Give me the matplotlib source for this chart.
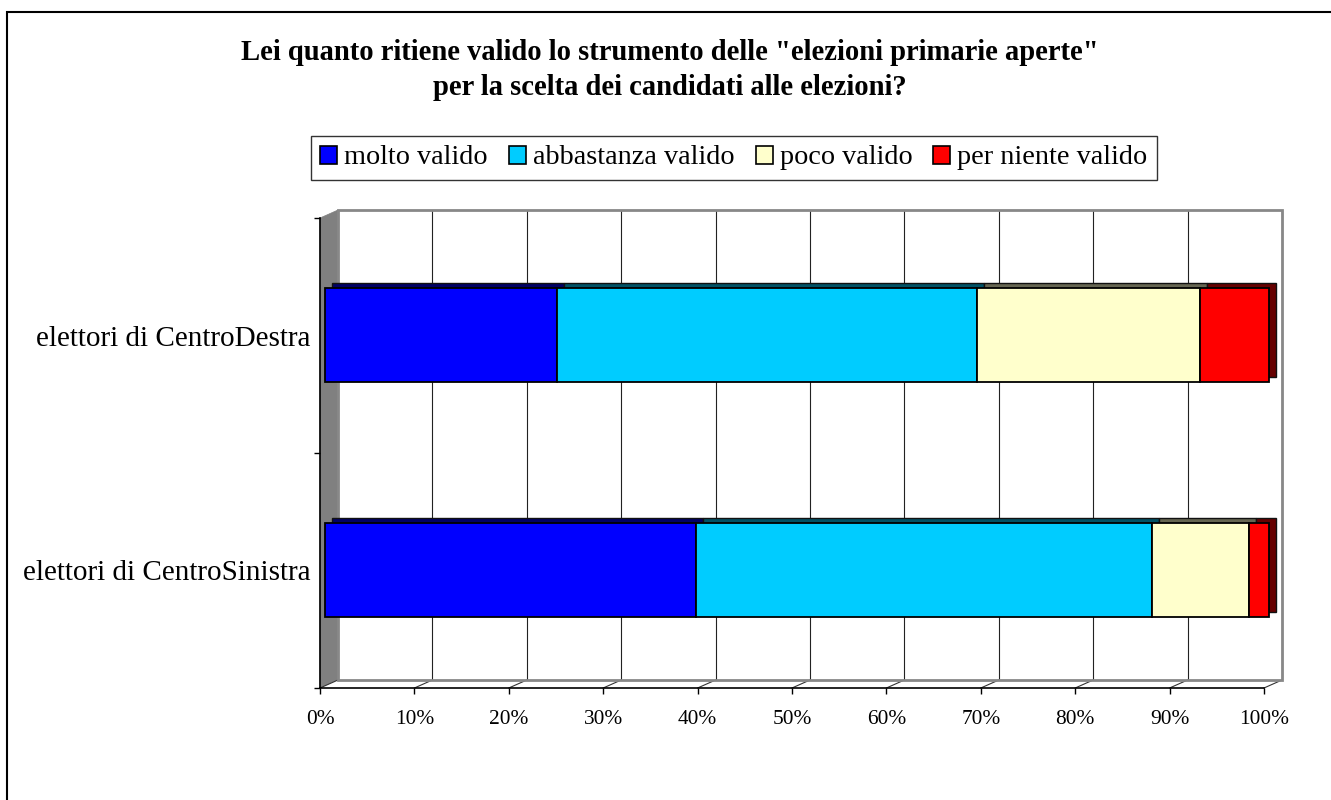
import numpy as np
import matplotlib
matplotlib.use("Agg")
import matplotlib.pyplot as plt
from matplotlib.patches import Patch, Rectangle, Polygon
from matplotlib.transforms import offset_copy
from matplotlib.colors import to_rgb

plt.rcParams['font.family'] = ['Liberation Serif', 'DejaVu Serif']

# data (percent of answers)
groups = ["elettori di CentroSinistra", "elettori di CentroDestra"]
answers = ["molto valido", "abbastanza valido", "poco valido", "per niente valido"]
molto = [39.3, 24.6]
abbastanza = [48.3, 44.5]
poco = [10.3, 23.6]
per_niente = [2.1, 7.3]
colors = ["#0000FF", "#00CCFF", "#FFFFCC", "#FF0000"]
title = 'Lei quanto ritiene valido lo strumento delle "elezioni primarie aperte"\nper la scelta dei candidati alle elezioni?'

W, H = 1331, 800
fig = plt.figure(figsize=(W / 100, H / 100), dpi=100)

# front plane of the fake 3d box, in pixels
left, right, bottom, top = 320, 1264, 688, 218
ax = fig.add_axes([left / W, 1 - bottom / H, (right - left) / W, (bottom - top) / H])
ax.set_xlim(0, 100)
ax.set_ylim(-0.5, 1.5)
ax.patch.set_alpha(0)

# depth of the back wall (pixels) -> data units
DX, DY = 18, 8
ddx = DX * 100 / (right - left)
ddy = DY * 2 / (bottom - top)

ticks = np.arange(0, 101, 10)

# side wall and floor
ax.add_patch(Polygon([(0, -0.5), (0, 1.5), (ddx, 1.5 + ddy), (ddx, -0.5 + ddy)],
                     closed=True, facecolor="#808080", edgecolor="#808080", lw=0.5, clip_on=False, zorder=1))
ax.add_patch(Polygon([(0, -0.5), (100, -0.5), (100 + ddx, -0.5 + ddy), (ddx, -0.5 + ddy)],
                     closed=True, facecolor="white", edgecolor="none", clip_on=False, zorder=1))
for t in ticks:
    ax.plot([t, t + ddx], [-0.5, -0.5 + ddy], color="#333333", lw=0.8, clip_on=False, zorder=1)

# back wall with gridlines
back = offset_copy(ax.transData, fig=fig, x=DX, y=DY, units="dots")
ax.vlines(ticks[1:], -0.5, 1.5, colors="#222222", lw=0.8, transform=back, clip_on=False, zorder=1)
ax.add_patch(Rectangle((0, -0.5), 100, 2, facecolor="none", edgecolor="#888888", lw=2,
                       transform=back, clip_on=False, zorder=2))

# stacked bars: a darker copy behind gives the top and side faces
series = [molto, abbastanza, poco, per_niente]
ypos = np.arange(len(groups))
front = offset_copy(ax.transData, fig=fig, x=5, y=1, units="dots")
shadow = offset_copy(ax.transData, fig=fig, x=12, y=6, units="dots")
lefts = np.zeros(len(groups))
for vals, c in zip(series, colors):
    dark = tuple(v * 0.4 for v in to_rgb(c))
    ax.barh(ypos, vals, left=lefts, height=0.4, color=dark, edgecolor="#111111", lw=1,
            transform=shadow, clip_on=False, zorder=3)
    lefts = lefts + np.array(vals)
lefts = np.zeros(len(groups))
for vals, c in zip(series, colors):
    ax.barh(ypos, vals, left=lefts, height=0.4, color=c, edgecolor="black", lw=1.3,
            transform=front, clip_on=False, zorder=4)
    lefts = lefts + np.array(vals)

# axes
for s in ["top", "right"]:
    ax.spines[s].set_visible(False)
ax.spines["left"].set_linewidth(1.2)
ax.spines["bottom"].set_linewidth(1.2)
ax.spines["left"].set_zorder(5)
ax.spines["bottom"].set_zorder(5)
ax.set_xticks(ticks, [f"{t}%" for t in ticks])
ax.set_yticks([-0.5, 0.5, 1.5], ["", "", ""])
ax.set_yticks(ypos, groups, minor=True)
ax.tick_params(axis="x", length=4, width=1, direction="out", labelsize=15.4, pad=12)
ax.tick_params(axis="y", which="major", length=4, width=1, direction="out")
ax.tick_params(axis="y", which="minor", length=0, labelsize=21, pad=7)

fig.text(670 / W, 1 - 70 / H, title, ha="center", va="center", fontsize=20.6,
         fontweight="bold", linespacing=1.35)

handles = [Patch(facecolor=c, edgecolor="black", lw=1.2) for c in colors]
leg = fig.legend(handles, answers, loc="center", bbox_to_anchor=(734 / W, 1 - 158 / H),
                 ncol=4, fontsize=20.3, frameon=True, fancybox=False, edgecolor="black",
                 handlelength=0.6, handleheight=0.6, handletextpad=0.25, columnspacing=0.75,
                 borderpad=0.32, borderaxespad=0)
leg.get_frame().set_linewidth(1)

fig.add_artist(Rectangle((7 / W, -0.1), 1.2, 1.1 - 12 / H, transform=fig.transFigure,
                         facecolor="none", edgecolor="black", lw=1.5))

fig.savefig("out.png", dpi=100, facecolor="white")
